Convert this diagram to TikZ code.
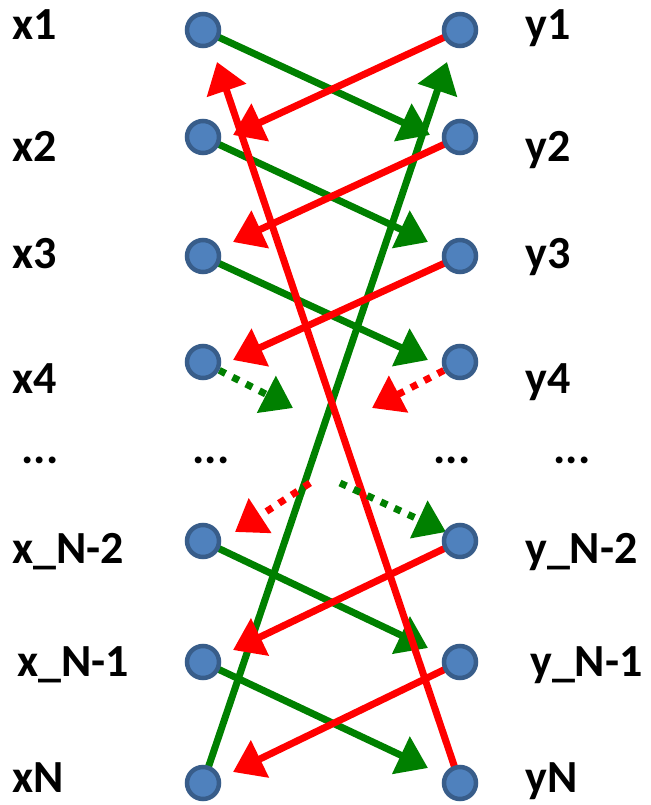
\documentclass[tikz,border=0pt]{standalone}
\usepackage{fontspec}
\setmainfont{Carlito}
\usetikzlibrary{arrows.meta,backgrounds}
\definecolor{dotfill}{HTML}{4F81BD}
\definecolor{dotedge}{HTML}{385D8A}
\definecolor{gline}{HTML}{008000}
\definecolor{rline}{HTML}{FF0000}
\begin{document}
\begin{tikzpicture}[x=1pt,y=-1pt,
  pt/.style={circle,fill=dotfill,draw=dotedge,line width=4.5pt,minimum size=32pt,inner sep=0pt},
  lab/.style={anchor=base west,inner sep=0pt,font=\fontsize{46}{50}\selectfont\bfseries},
  ell/.style={anchor=base,inner sep=0pt,font=\fontsize{46}{50}\selectfont\bfseries},
  conn/.style={line width=7pt,-{Triangle[length=30pt,width=40pt]}},
  gr/.style={conn,color=gline},
  rd/.style={conn,color=rline},
  dots/.style={dash pattern=on 7pt off 8pt}]
\useasboundingbox (0,0) rectangle (650,805);
% dots
\node[pt] (x1) at (203,30) {};
\node[pt] (x2) at (203,137) {};
\node[pt] (x3) at (203,256) {};
\node[pt] (x4) at (203,362) {};
\node[pt] (xa) at (203,541) {};
\node[pt] (xb) at (203,662) {};
\node[pt] (xN) at (203,783) {};
\node[pt] (y1) at (460,30) {};
\node[pt] (y2) at (460,137) {};
\node[pt] (y3) at (460,256) {};
\node[pt] (y4) at (460,362) {};
\node[pt] (ya) at (460,541) {};
\node[pt] (yb) at (460,662) {};
\node[pt] (yN) at (460,783) {};
% labels
\node[lab] (lx1) at (12,40) {x1};
\node[lab] (lx2) at (12,162) {x2};
\node[lab] (lx3) at (12,268) {x3};
\node[lab] (lx4) at (12,393) {x4};
\node[ell] (le1) at (40,463) {...};
\node[lab] (lxa) at (12,563) {x\_N-2};
\node[lab] (lxb) at (17,676) {x\_N-1};
\node[lab] (lxN) at (12,792) {xN};
\node[lab] (ly1) at (525,40) {y1};
\node[lab] (ly2) at (525,162) {y2};
\node[lab] (ly3) at (525,268) {y3};
\node[lab] (ly4) at (525,393) {y4};
\node[ell] (le4) at (572,463) {...};
\node[lab] (lya) at (525,563) {y\_N-2};
\node[lab] (lyb) at (530,676) {y\_N-1};
\node[lab] (lyN) at (525,792) {yN};
\node[ell] (le2) at (211,463) {...};
\node[ell] (le3) at (452,463) {...};
% arrow end points
\coordinate (g1) at (430,135);
\coordinate (g2) at (428,242);
\coordinate (g3) at (428,360);
\coordinate (ga) at (428,648);
\coordinate (gb) at (428,768);
\coordinate (gN) at (447,62);
\coordinate (r1) at (233,135);
\coordinate (r2) at (233,242);
\coordinate (r3) at (233,360);
\coordinate (ra) at (233,650);
\coordinate (rb) at (233,772);
\coordinate (rN) at (217,62);
\coordinate (g4) at (293,408);
\coordinate (r4) at (372,408);
\coordinate (rs) at (310,483);
\coordinate (re) at (235,532);
\coordinate (gs) at (340,483);
\coordinate (ge) at (446,532);
\begin{scope}[on background layer]
\draw[gr] (x1.center) -- (g1);
\draw[gr] (x2.center) -- (g2);
\draw[gr] (x3.center) -- (g3);
\draw[gr] (xa.center) -- (ga);
\draw[gr] (xb.center) -- (gb);
\draw[gr] (xN.center) -- (gN);
\draw[rd] (y1.center) -- (r1);
\draw[rd] (y2.center) -- (r2);
\draw[rd] (y3.center) -- (r3);
\draw[rd] (ya.center) -- (ra);
\draw[rd] (yb.center) -- (rb);
\draw[rd] (yN.center) -- (rN);
\draw[gr,dots] (x4) -- (g4);
\draw[rd,dots] (y4) -- (r4);
\draw[rd,dots] (rs) -- (re);
\draw[gr,dots] (gs) -- (ge);
\end{scope}
\end{tikzpicture}
\end{document}
